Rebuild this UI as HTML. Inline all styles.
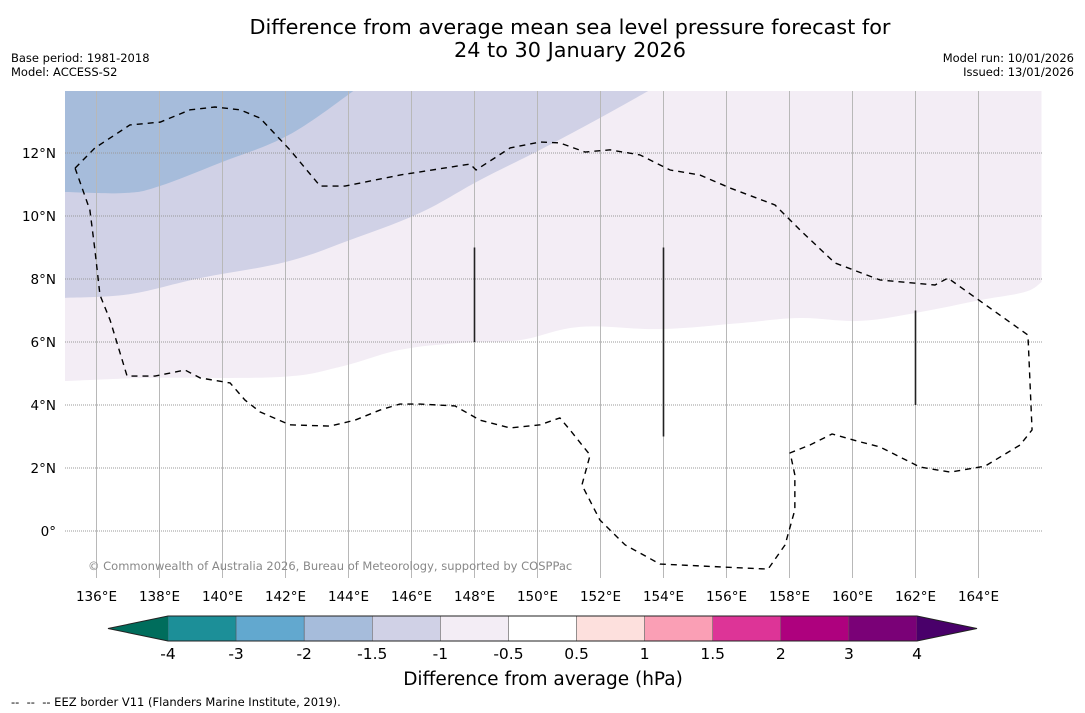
<!DOCTYPE html>
<html><head><meta charset="utf-8"><style>
body{margin:0;background:#fff;font-family:"DejaVu Sans","Liberation Sans",sans-serif;}
svg{display:block}
</style></head><body>
<svg id="chart" width="1085" height="713" xmlns="http://www.w3.org/2000/svg" font-family="DejaVu Sans, Liberation Sans, sans-serif">
<text x="570" y="34" font-size="20.8" text-anchor="middle">Difference from average mean sea level pressure forecast for</text>
<text x="570" y="57" font-size="20.8" text-anchor="middle">24 to 30 January 2026</text>
<text x="11" y="62" font-size="11.5">Base period: 1981-2018</text>
<text x="11" y="76" font-size="11.5">Model: ACCESS-S2</text>
<text x="1074" y="62" font-size="11.5" text-anchor="end">Model run: 10/01/2026</text>
<text x="1074" y="76" font-size="11.5" text-anchor="end">Issued: 13/01/2026</text>
<defs><clipPath id="mapclip"><rect x="65" y="91" width="977" height="487"/></clipPath></defs>
<g id="map" clip-path="url(#mapclip)"></g>
<g id="axes"></g>
<g id="cbar"></g>
<text x="543" y="685" font-size="18.5" text-anchor="middle">Difference from average (hPa)</text>
<text x="11" y="706" font-size="11.5" xml:space="preserve">--  --  -- EEZ border V11 (Flanders Marine Institute, 2019).</text>
</svg>
<script>
const lonTicks=[136,138,140,142,144,146,148,150,152,154,156,158,160,162,164];
const latTicks=[0,2,4,6,8,10,12];
const cbarBounds=[-4,-3,-2,-1.5,-1,-0.5,0.5,1,1.5,2,3,4];
const cbarColors=["#1c8f98","#62a8cf","#a6bcdb","#d0d1e6","#f3edf5","#ffffff","#fde0dd","#fa9fb5","#dd3497","#ae017e","#7a0177"];
const contourM1Lon=[135,137.7,141.83,143.73,145.63,147.54,149.44,151.35,153.9,156.43,158.33,160.24,162.14,164.05,165.48,166];
const contourM1Lat=[4.76,4.86,4.89,5.21,5.75,5.97,6.06,6.48,6.41,6.6,6.76,6.67,6.95,7.33,7.59,7.9];
const contourM15Lon=[135,137.06,139.3,142.0,144.05,146.27,148.17,150.08,151.98,153.57];
const contourM15Lat=[7.40,7.52,8.03,8.54,9.24,10.1,11.14,12.1,13.11,14.0];
const contourM2Lon=[135,136.9,138.0,139.9,142.1,144.2];
const contourM2Lat=[10.76,10.73,10.95,11.68,12.57,14.0];
const eezLon=[135.32,135.95,137.06,138.02,138.97,139.76,140.56,141.19,142.14,143.10,143.89,145.63,147.86,148.05,149.13,150.08,150.71,151.51,152.30,153.25,154.21,155.16,156.11,157.54,158.33,159.44,160.87,162.62,163.03,165.57,165.70,165.32,164.21,163.10,162.14,160.87,160.24,159.35,158.65,158.02,158.17,158.17,157.86,157.32,153.89,152.78,151.98,151.41,151.67,151.03,150.71,150.08,149.13,148.17,147.38,146.27,145.63,145.00,144.21,143.41,142.14,141.19,140.71,140.24,139.29,138.81,137.86,136.97,136.43,136.11,135.95,135.79,135.32];
const eezLat=[11.52,12.16,12.89,12.98,13.37,13.46,13.37,13.11,12.10,10.95,10.95,11.30,11.65,11.46,12.16,12.35,12.32,12.03,12.10,11.94,11.46,11.30,10.89,10.35,9.56,8.51,7.97,7.81,8.03,6.22,3.21,2.73,2.06,1.87,2.03,2.67,2.83,3.08,2.73,2.48,1.78,0.67,-0.44,-1.21,-1.05,-0.44,0.35,1.46,2.41,3.21,3.59,3.37,3.27,3.52,3.97,4.03,4.03,3.84,3.52,3.33,3.37,3.78,4.16,4.70,4.86,5.11,4.92,4.92,6.70,7.49,8.92,10.19,11.52];
const segLon=[148,154,162];
const segLat0=[6,3,4];
const segLat1=[9,9,7];

const NS="http://www.w3.org/2000/svg";
const X=lon=>65+(lon-135)*31.5;
const Y=lat=>531-lat*31.5;
function mk(tag,attrs,parent){const e=document.createElementNS(NS,tag);for(const k in attrs)e.setAttribute(k,attrs[k]);parent.appendChild(e);return e;}
function smooth(p){
  let d='M'+p[0][0]+','+p[0][1];
  for(let i=0;i<p.length-1;i++){
    const a=p[Math.max(0,i-1)],b=p[i],c=p[i+1],e=p[Math.min(p.length-1,i+2)];
    const t=0.18;
    d+=' C'+(b[0]+(c[0]-a[0])*t)+','+(b[1]+(c[1]-a[1])*t)+' '+(c[0]-(e[0]-b[0])*t)+','+(c[1]-(e[1]-b[1])*t)+' '+c[0]+','+c[1];
  }
  return d;
}
const map=document.getElementById('map'),axes=document.getElementById('axes'),cb=document.getElementById('cbar');
mk('rect',{x:65,y:91,width:977,height:487,fill:'#fff'},map);
function region(lons,lats,color,name){
  const pts=lons.map((l,i)=>[X(l),Y(lats[i])]);
  const lastLon=lons[lons.length-1];
  const d=smooth(pts)+' L'+X(lastLon)+','+Y(15)+' L'+X(135)+','+Y(15)+' Z';
  const p=mk('path',{d:d,fill:color},map);
  
  
}
region(contourM1Lon,contourM1Lat,'#f3edf5','anomaly-region-minus1');
region(contourM15Lon,contourM15Lat,'#d0d1e6','anomaly-region-minus1-5');
region(contourM2Lon,contourM2Lat,'#a6bcdb','anomaly-region-minus2');
lonTicks.forEach(l=>{
  const g=mk('line',{x1:X(l),x2:X(l),y1:91,y2:578,stroke:'#b8b8b8','stroke-width':1},map);
  
  
  const t=mk('text',{x:X(l),y:601,'font-size':13.5,'text-anchor':'middle'},axes);
  t.textContent=l+'°E';
  
  
});
latTicks.forEach(l=>{
  const g=mk('line',{x1:65,x2:1042,y1:Y(l),y2:Y(l),stroke:'#999','stroke-width':1,'stroke-dasharray':'1,1'},map);
  
  
  const t=mk('text',{x:56,y:Y(l)+5,'font-size':13.5,'text-anchor':'end'},axes);
  t.textContent=l===0?'0°':l+'°N';
  
  
});
const eez=mk('polyline',{points:eezLon.map((l,i)=>X(l)+','+Y(eezLat[i])).join(' '),fill:'none',stroke:'#000','stroke-width':1.4,'stroke-dasharray':'6,5'},map);


segLon.forEach((l,i)=>{
  const s=mk('line',{x1:X(l),x2:X(l),y1:Y(segLat0[i]),y2:Y(segLat1[i]),stroke:'#222','stroke-width':1.6},map);
  
  
});
const cp=mk('text',{x:88,y:570,'font-size':11.5,fill:'#888'},map);
cp.textContent='© Commonwealth of Australia 2026, Bureau of Meteorology, supported by COSPPac';


const cbX0=168,cbX1=917,cbY=616,cbH=25;
const step=(cbX1-cbX0)/(cbarBounds.length-1);
cbarColors.forEach((c,i)=>{
  const r=mk('rect',{x:cbX0+i*step,y:cbY,width:step,height:cbH,fill:c,stroke:'#555','stroke-width':0.5},cb);
  
  
});
const lt=mk('polygon',{points:`${cbX0},${cbY} 108,${cbY+cbH/2} ${cbX0},${cbY+cbH}`,fill:'#006d5c'},cb);


const rt=mk('polygon',{points:`${cbX1},${cbY} 977,${cbY+cbH/2} ${cbX1},${cbY+cbH}`,fill:'#49006a'},cb);


const ol=mk('polygon',{points:`108,${cbY+cbH/2} ${cbX0},${cbY} ${cbX1},${cbY} 977,${cbY+cbH/2} ${cbX1},${cbY+cbH} ${cbX0},${cbY+cbH}`,fill:'none',stroke:'#222','stroke-width':1},cb);


cbarBounds.forEach((b,i)=>{
  const t=mk('text',{x:cbX0+i*step,y:659,'font-size':15.5,'text-anchor':'middle'},cb);
  t.textContent=b;
  
  
});
</script>
</body></html>
